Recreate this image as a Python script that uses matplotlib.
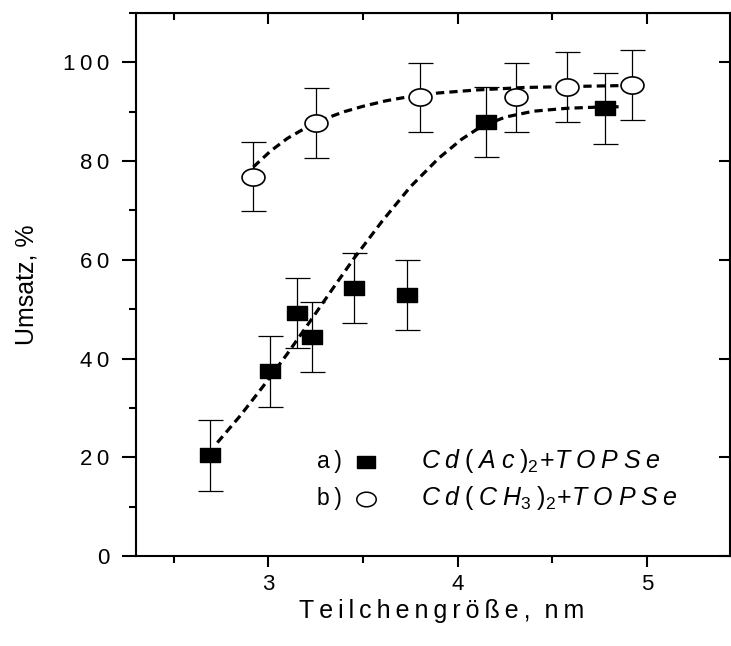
import numpy as np
import matplotlib
matplotlib.use("Agg")
import matplotlib.pyplot as plt
from matplotlib.path import Path
from matplotlib.ticker import MultipleLocator, FuncFormatter

plt.rcParams['font.family'] = ['Liberation Sans', 'DejaVu Sans']
plt.rcParams['mathtext.fontset'] = 'custom'
plt.rcParams['mathtext.rm'] = 'Liberation Sans'
plt.rcParams['mathtext.it'] = 'Liberation Sans:italic'

# series a) Cd(Ac)2 + TOPSe
size_a = [2.69, 3.01, 3.15, 3.23, 3.45, 3.73, 4.15, 4.78]
conv_a = [20.4, 37.4, 49.3, 44.4, 54.3, 52.8, 88.0, 90.7]
err_a = [7.1, 7.1, 7.1, 7.1, 7.1, 7.1, 7.1, 7.2]

# series b) Cd(CH3)2 + TOPSe
size_b = [2.92, 3.25, 3.80, 4.31, 4.58, 4.92]
conv_b = [76.8, 87.7, 92.9, 92.9, 95.0, 95.4]
err_b = [7.0, 7.0, 7.0, 7.0, 7.0, 7.0]

# dashed fit curves
fit_x_a = [2.73, 2.85, 2.97, 3.10, 3.21, 3.34, 3.45, 3.60, 3.75, 3.90, 4.02, 4.12, 4.25, 4.40, 4.58, 4.72, 4.85]
fit_y_a = [23.0, 28.4, 34.3, 41.0, 47.0, 54.2, 60.2, 67.8, 74.8, 80.6, 84.4, 86.9, 88.9, 90.1, 90.7, 90.9, 91.0]
fit_x_b = [2.92, 3.01, 3.10, 3.20, 3.30, 3.40, 3.50, 3.62, 3.75, 3.90, 4.10, 4.35, 4.60, 4.88]
fit_y_b = [78.8, 82.0, 84.6, 86.8, 88.6, 90.0, 91.1, 92.2, 93.1, 93.8, 94.4, 94.9, 95.1, 95.3]

fig = plt.figure(figsize=(7.31, 6.46), dpi=100)
ax = fig.add_axes([0.186, 0.139, 0.813, 0.841])

# slightly squashed markers, like the original
sq = Path([(-1, -0.72), (1, -0.72), (1, 0.72), (-1, 0.72), (-1, -0.72)],
          [Path.MOVETO, Path.LINETO, Path.LINETO, Path.LINETO, Path.CLOSEPOLY])
t = np.linspace(0, 2 * np.pi, 60)
ell = Path(np.column_stack([np.cos(t), 0.75 * np.sin(t)]), closed=True)

dash = (0, (2.6, 1.6))
ax.plot(fit_x_a, fit_y_a, color='black', lw=2.3, linestyle=dash, zorder=2)
ax.plot(fit_x_b, fit_y_b, color='black', lw=2.3, linestyle=dash, zorder=2)

ax.errorbar(size_a, conv_a, yerr=err_a, fmt='none', ecolor='black', elinewidth=0.9,
            capsize=9, capthick=0.9, zorder=3)
ax.errorbar(size_b, conv_b, yerr=err_b, fmt='none', ecolor='black', elinewidth=0.9,
            capsize=9, capthick=0.9, zorder=3)
ax.plot(size_a, conv_a, linestyle='none', marker=sq, ms=15, mfc='black', mec='black', zorder=4)
ax.plot(size_b, conv_b, linestyle='none', marker=ell, ms=16.5, mfc='white', mec='black',
        mew=1.2, zorder=4)

ax.set_xlim(2.3, 5.44)
ax.set_ylim(0, 110)

ax.xaxis.set_major_locator(MultipleLocator(1))
ax.xaxis.set_minor_locator(MultipleLocator(0.5))
ax.yaxis.set_major_locator(MultipleLocator(20))
ax.yaxis.set_minor_locator(MultipleLocator(10))

spaced = FuncFormatter(lambda v, p: '\u2009'.join(str(int(round(v)))))
ax.yaxis.set_major_formatter(spaced)
ax.xaxis.set_major_formatter(spaced)

ax.tick_params(axis='both', which='major', labelsize=16, width=1.5)
ax.tick_params(axis='both', which='minor', width=1.5)
ax.tick_params(axis='y', which='major', direction='out', length=10, pad=9)
ax.tick_params(axis='y', which='minor', direction='out', length=5)
ax.tick_params(axis='x', which='major', direction='out', length=8, pad=5)
ax.tick_params(axis='x', which='minor', direction='out', length=5)

for s in ax.spines.values():
    s.set_linewidth(1.5)

# inward ticks on top and right
sec_x = ax.secondary_xaxis('top')
sec_x.xaxis.set_major_locator(MultipleLocator(1))
sec_x.xaxis.set_minor_locator(MultipleLocator(0.5))
sec_x.tick_params(which='both', direction='in', labeltop=False, width=1.5)
sec_x.tick_params(which='major', length=8)
sec_x.tick_params(which='minor', length=5)
sec_y = ax.secondary_yaxis('right')
sec_y.yaxis.set_major_locator(MultipleLocator(20))
sec_y.tick_params(which='major', direction='in', length=8, width=1.5, labelright=False)
sec_y.yaxis.set_minor_locator(plt.NullLocator())

ax.set_xlabel('\u2009'.join('Teilchengröße,') + '  ' + '\u2009'.join('nm'), fontsize=18, labelpad=3)
ax.xaxis.label.set_x(0.515)
ax.set_ylabel('Umsatz, %', fontsize=18, labelpad=18)

# legend drawn by hand
tr = ax.transAxes
ax.text(0.305, 0.175, 'a\u2009)', transform=tr, fontsize=16.5, va='center', ha='left')
ax.text(0.305, 0.107, 'b\u2009)', transform=tr, fontsize=16.5, va='center', ha='left')
ax.plot([0.387], [0.173], transform=tr, marker=sq, ms=12.5, mfc='black', mec='black', linestyle='none')
ax.plot([0.387], [0.105], transform=tr, marker=ell, ms=14, mfc='white', mec='black', mew=1.1, linestyle='none')
ax.text(0.48, 0.175, r'$C\;d\;(\;A\;c\;)_2\!+\!T\;O\;P\;S\;e$', transform=tr, fontsize=18,
        va='center', ha='left')
ax.text(0.48, 0.107, r'$C\;d\;(\;C\;H_3\;)_2\!+\!T\;O\;P\;S\;e$', transform=tr, fontsize=18,
        va='center', ha='left')

fig.savefig('out.png', dpi=100)
